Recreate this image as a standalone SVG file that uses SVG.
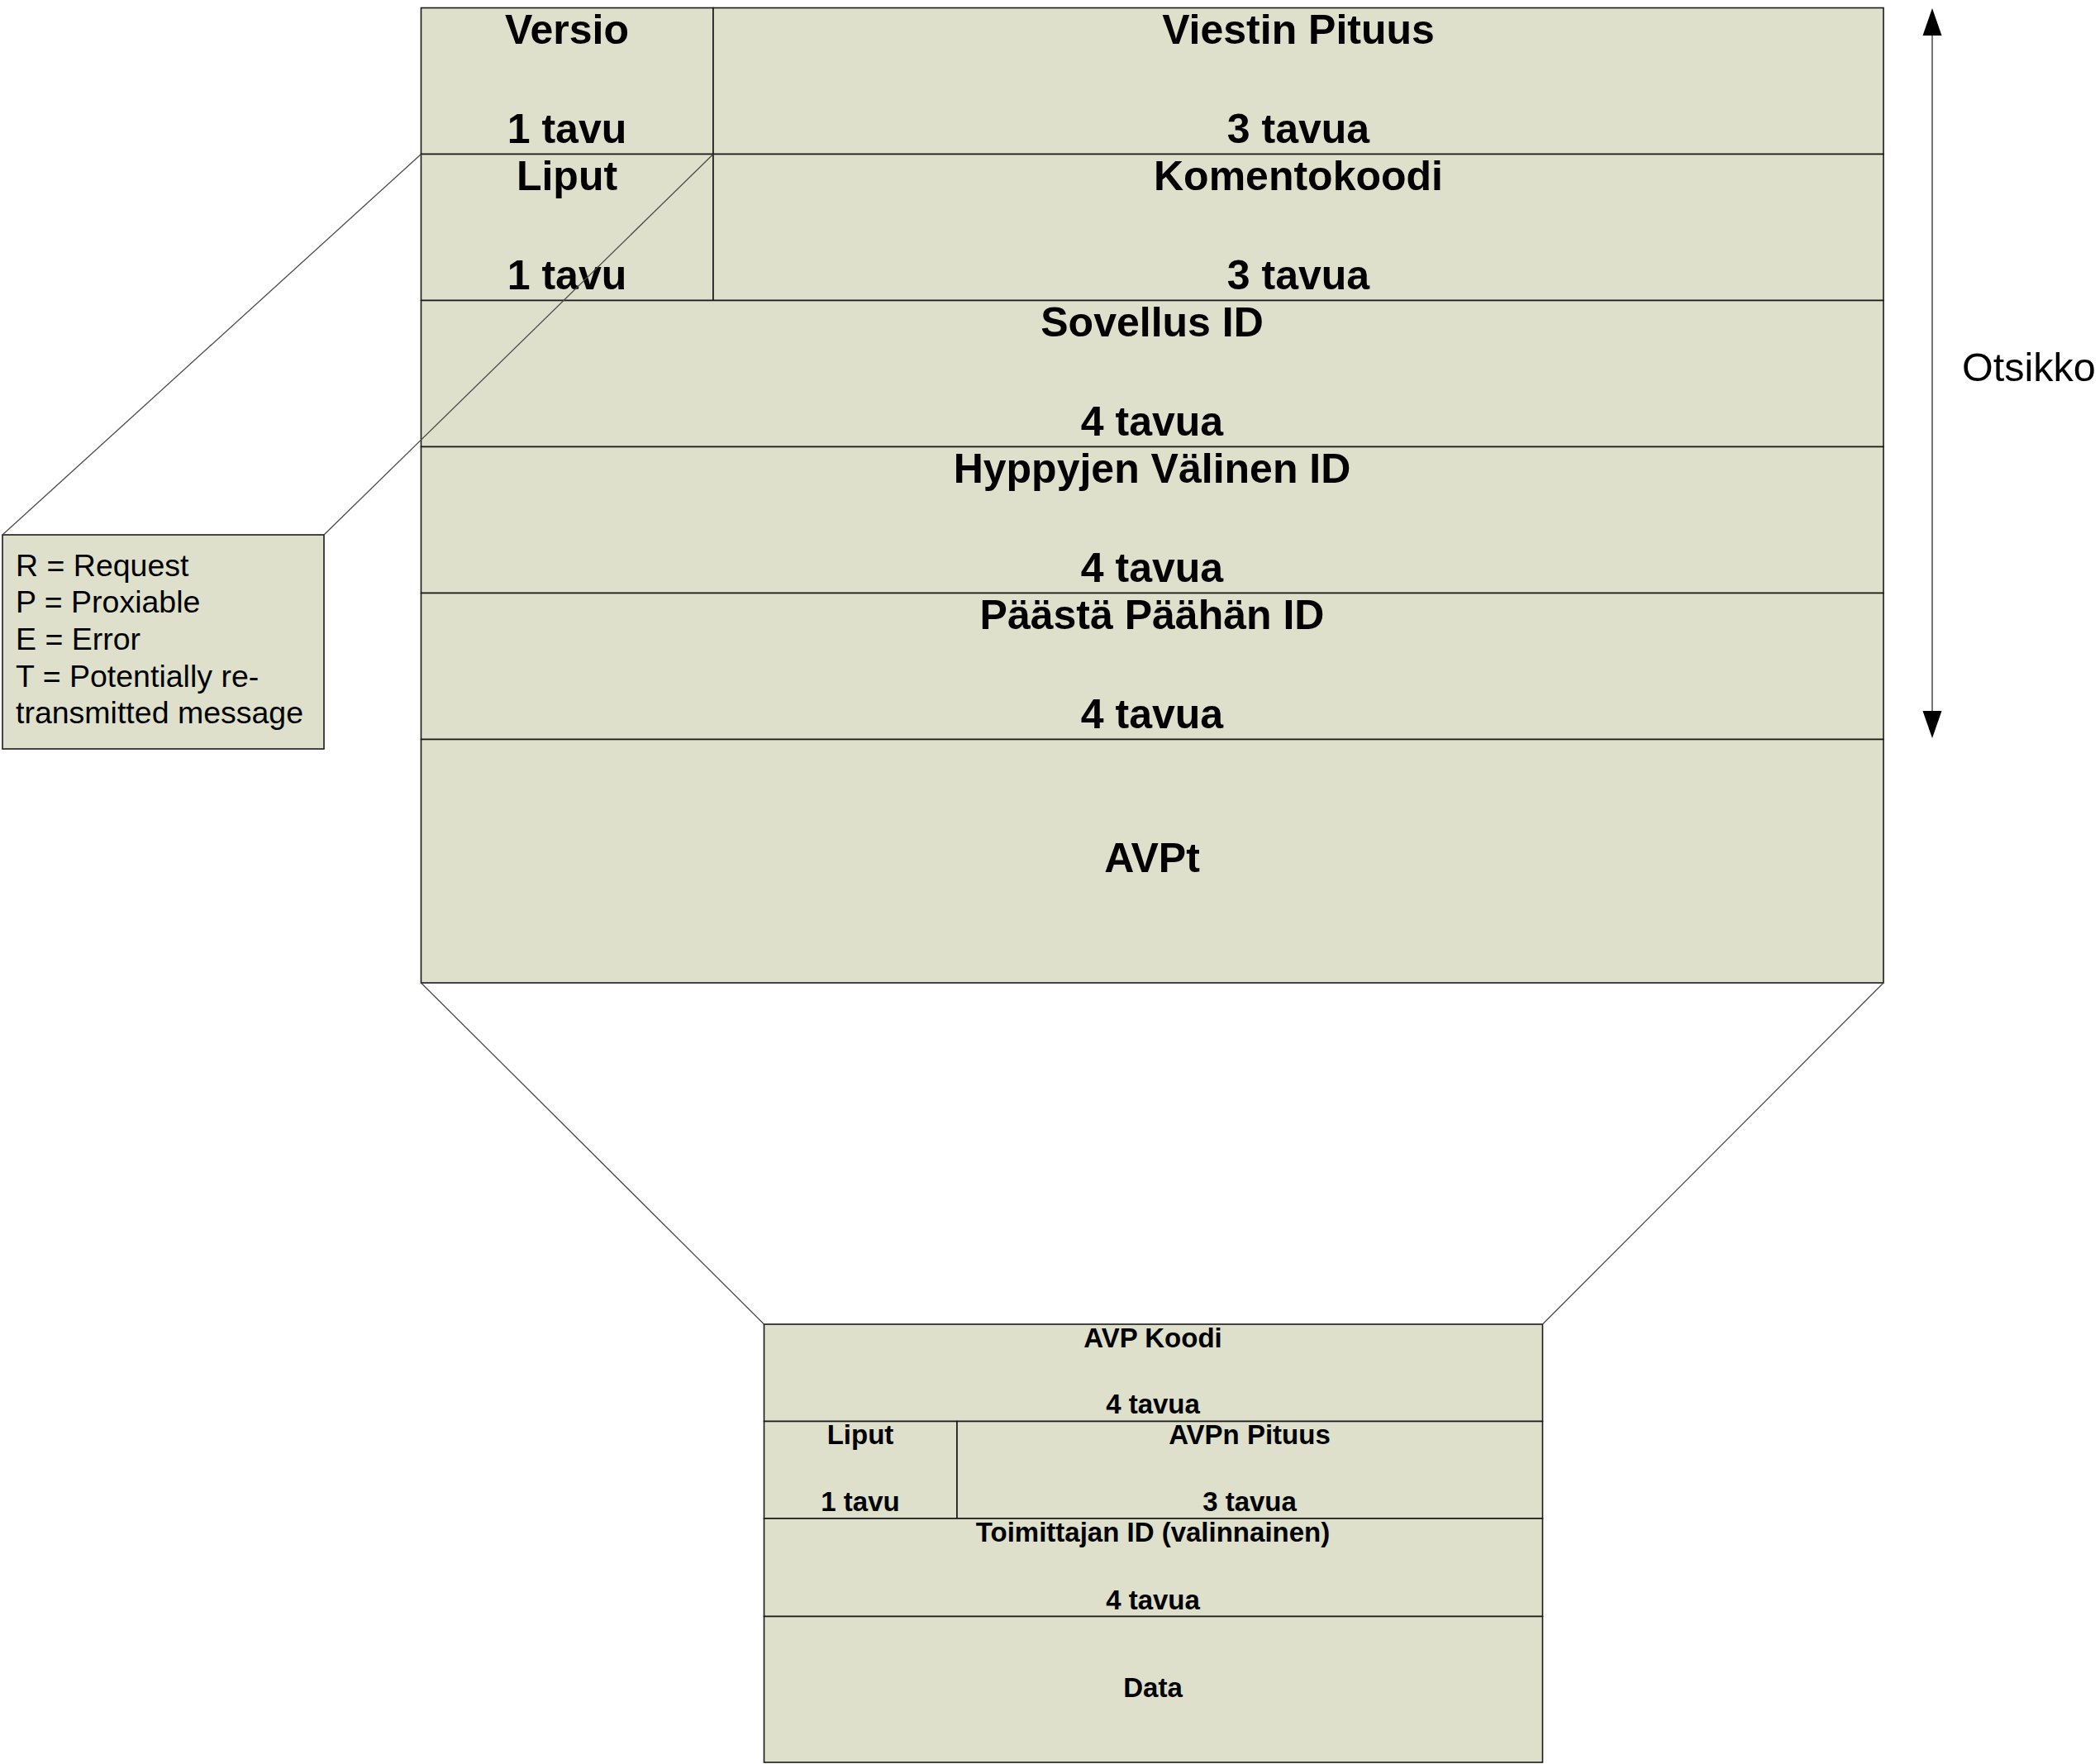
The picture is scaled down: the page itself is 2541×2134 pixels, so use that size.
<svg xmlns="http://www.w3.org/2000/svg" width="2541" height="2134" viewBox="0 0 2541 2134">
<style>
.cell{fill:#dee0cb;stroke:#1a1a1a;stroke-width:1.6}
.big{font-family:"Liberation Sans",Arial,sans-serif;font-weight:bold;font-size:50px;fill:#000;text-anchor:middle}
.small{font-family:"Liberation Sans",Arial,sans-serif;font-weight:bold;font-size:33px;fill:#000;text-anchor:middle}
.note{font-family:"Liberation Sans",Arial,sans-serif;font-size:37.5px;fill:#000}
.lbl{font-family:"Liberation Sans",Arial,sans-serif;font-size:48.5px;fill:#000}
.conn{stroke:#4a4a4a;stroke-width:1.3;fill:none}
</style>
<rect width="2541" height="2134" fill="#fff"/>
<g id="header">
  <g id="versio"><rect class="cell" x="509.5" y="9.5" width="353.5" height="177"/><text class="big" x="686" y="53">Versio</text><text class="big" x="686" y="173">1 tavu</text></g>
  <g id="viestin-pituus"><rect class="cell" x="863" y="9.5" width="1416" height="177"/><text class="big" x="1571" y="53">Viestin Pituus</text><text class="big" x="1571" y="173">3 tavua</text></g>
  <g id="liput"><rect class="cell" x="509.5" y="186.5" width="353.5" height="177"/><text class="big" x="686" y="230">Liput</text><text class="big" x="686" y="350">1 tavu</text></g>
  <g id="komentokoodi"><rect class="cell" x="863" y="186.5" width="1416" height="177"/><text class="big" x="1571" y="230">Komentokoodi</text><text class="big" x="1571" y="350">3 tavua</text></g>
  <g id="sovellus-id"><rect class="cell" x="509.5" y="363.5" width="1769.5" height="177"/><text class="big" x="1394" y="407">Sovellus ID</text><text class="big" x="1394" y="527">4 tavua</text></g>
  <g id="hyppyjen-id"><rect class="cell" x="509.5" y="540.5" width="1769.5" height="177"/><text class="big" x="1394" y="584">Hyppyjen Välinen ID</text><text class="big" x="1394" y="704">4 tavua</text></g>
  <g id="paasta-paahan-id"><rect class="cell" x="509.5" y="717.5" width="1769.5" height="177"/><text class="big" x="1394" y="761">Päästä Päähän ID</text><text class="big" x="1394" y="881">4 tavua</text></g>
  <g id="avpt"><rect class="cell" x="509.5" y="894.5" width="1769.5" height="294.5"/><text class="big" x="1394" y="1055">AVPt</text></g>
</g>
<g id="avp">
  <g id="avp-koodi"><rect class="cell" x="924.5" y="1602" width="942" height="117.5"/><text class="small" x="1395" y="1630">AVP Koodi</text><text class="small" x="1395" y="1710">4 tavua</text></g>
  <g id="avp-liput"><rect class="cell" x="924.5" y="1719.5" width="233.5" height="117.5"/><text class="small" x="1041" y="1747">Liput</text><text class="small" x="1041" y="1828">1 tavu</text></g>
  <g id="avpn-pituus"><rect class="cell" x="1158" y="1719.5" width="708.5" height="117.5"/><text class="small" x="1512" y="1747">AVPn Pituus</text><text class="small" x="1512" y="1828">3 tavua</text></g>
  <g id="toimittajan-id"><rect class="cell" x="924.5" y="1837" width="942" height="118.5"/><text class="small" x="1395" y="1865">Toimittajan ID (valinnainen)</text><text class="small" x="1395" y="1947">4 tavua</text></g>
  <g id="data"><rect class="cell" x="924.5" y="1955.5" width="942" height="176.5"/><text class="small" x="1395" y="2053">Data</text></g>
</g>
<g id="flags-note">
  <rect class="cell" x="3" y="647" width="389" height="259"/>
  <text class="note" x="19" y="697">R = Request</text>
  <text class="note" x="19" y="741">P = Proxiable</text>
  <text class="note" x="19" y="786">E = Error</text>
  <text class="note" x="19" y="831">T = Potentially re-</text>
  <text class="note" x="19" y="875">transmitted message</text>
</g>
<g id="otsikko-label"><text class="lbl" x="2374" y="461">Otsikko</text></g>
<g id="connectors">
  <line class="conn" x1="3" y1="647" x2="509.5" y2="186.5"/>
  <line class="conn" x1="392" y1="647" x2="863" y2="186.5"/>
  <line class="conn" x1="509.5" y1="1189" x2="924.5" y2="1602"/>
  <line class="conn" x1="2279" y1="1189" x2="1866.5" y2="1602"/>
  <line x1="2338" y1="40" x2="2338" y2="863" stroke="#777" stroke-width="2"/>
  <polygon points="2338,10 2326.5,43 2349.5,43" fill="#000"/>
  <polygon points="2338,893 2326.5,860 2349.5,860" fill="#000"/>
</g>
</svg>
